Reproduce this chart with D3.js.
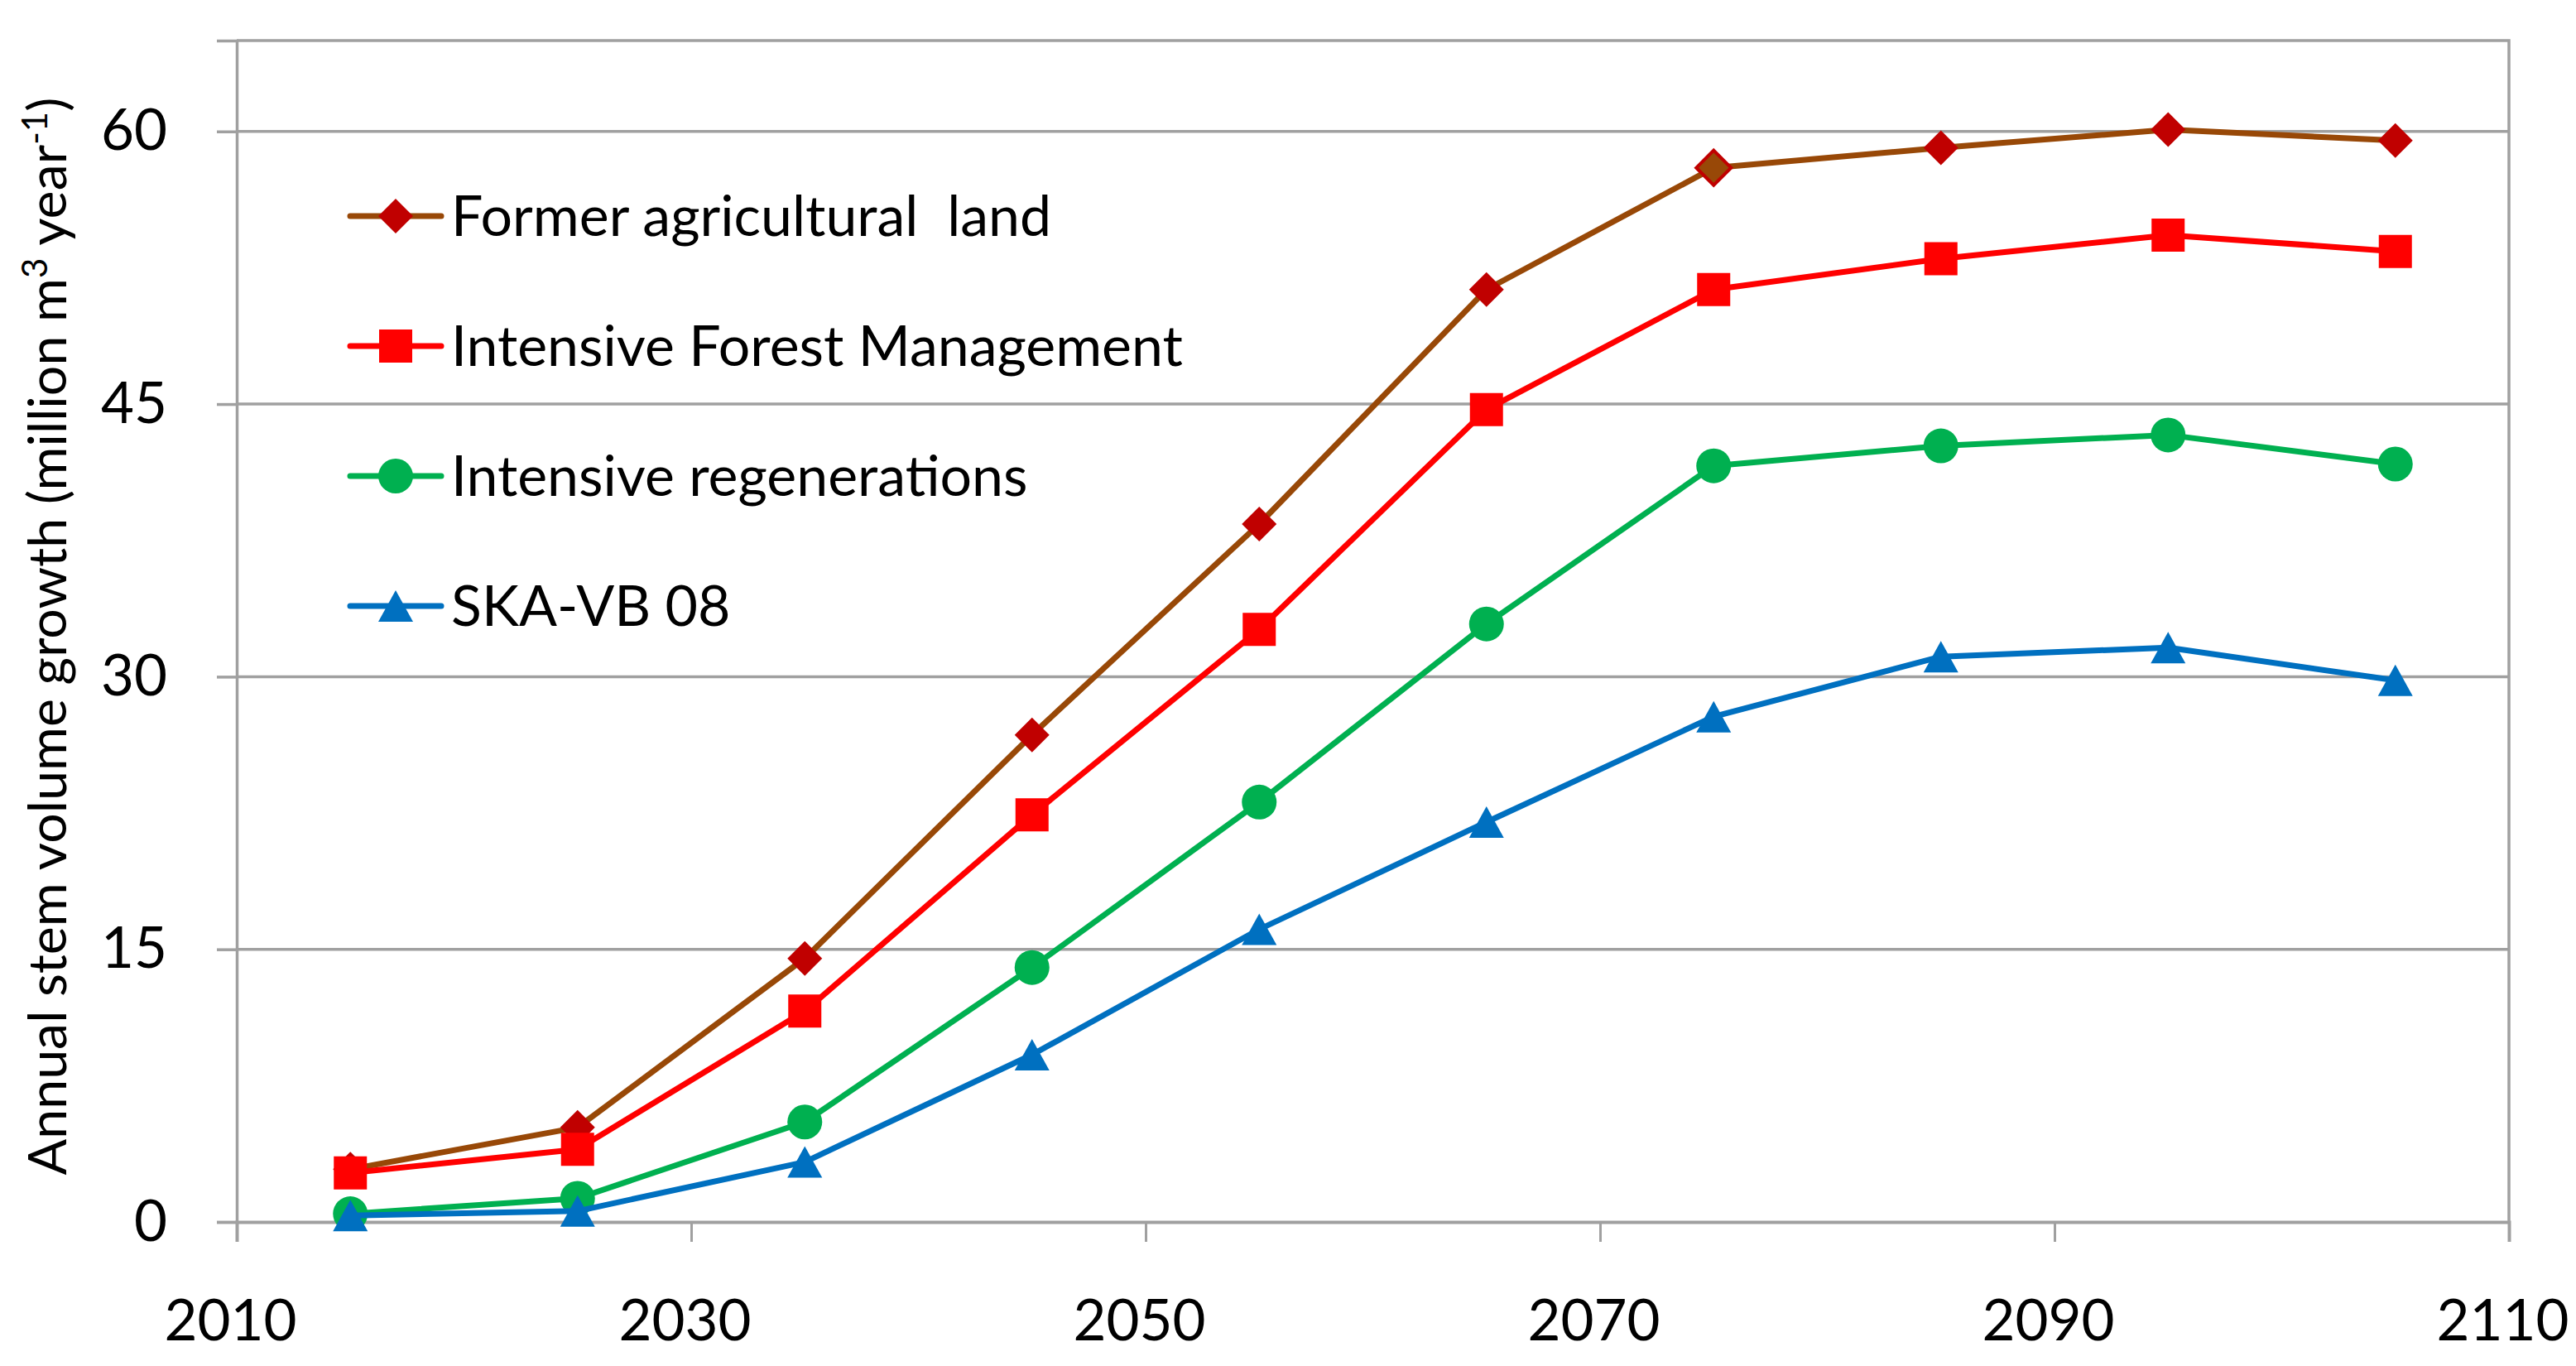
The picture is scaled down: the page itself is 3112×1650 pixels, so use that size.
<!DOCTYPE html>
<html>
<head>
<meta charset="utf-8">
<script src="https://cdn.jsdelivr.net/npm/d3@7"></script>
<style>
  body { margin: 0; background: #fff; }
  text { font-family: Lato, "Open Sans", sans-serif; fill: #000; }
  .tick text { font-variant-numeric: tabular-nums; }
</style>
</head>
<body>
<div id="chart"></div>
<script>
// data
const years = [2015, 2025, 2035, 2045, 2055, 2065, 2075, 2085, 2095, 2105];
const formerAgri = [2.9, 5.2, 14.5, 26.8, 38.4, 51.3, 58.0, 59.1, 60.1, 59.5];
const intensiveFM = [2.7, 4.0, 11.6, 22.4, 32.6, 44.7, 51.3, 53.0, 54.3, 53.4];
const intensiveReg = [0.45, 1.3, 5.5, 14.0, 23.1, 32.9, 41.6, 42.7, 43.3, 41.7];
const skaVB = [0.35, 0.6, 3.3, 9.2, 16.1, 22.0, 27.8, 31.1, 31.6, 29.8];

const seriesNames = ["Former agricultural  land", "Intensive Forest Management", "Intensive regenerations", "SKA-VB 08"];
const xTicks = [2010, 2030, 2050, 2070, 2090, 2110];
const yTicks = [0, 15, 30, 45, 60];

const width = 3112, height = 1650;
const margin = { left: 286, right: 81, top: 49, bottom: 174 };

const series = [
  { name: seriesNames[0], values: formerAgri, line: "#984807", fill: "#c00000", shape: "diamond" },
  { name: seriesNames[1], values: intensiveFM, line: "#ff0000", fill: "#ff0000", shape: "square" },
  { name: seriesNames[2], values: intensiveReg, line: "#00b050", fill: "#00b050", shape: "circle" },
  { name: seriesNames[3], values: skaVB, line: "#0070c0", fill: "#0070c0", shape: "triangle" }
];

const x = d3.scaleLinear().domain([2010, 2110]).range([margin.left, width - margin.right]);
const y = d3.scaleLinear().domain([0, 65]).range([height - margin.bottom, margin.top]);

const svg = d3.select("#chart").append("svg")
  .attr("width", width)
  .attr("height", height);

svg.append("rect").attr("width", width).attr("height", height).attr("fill", "#fff");

const grey = "#a0a0a0";

// horizontal gridlines
svg.append("g")
  .selectAll("line")
  .data(yTicks.filter(d => d > 0))
  .join("line")
  .attr("x1", x(2010)).attr("x2", x(2110))
  .attr("y1", d => y(d)).attr("y2", d => y(d))
  .attr("stroke", grey).attr("stroke-width", 3.5);

// plot border top and right
svg.append("path")
  .attr("d", `M${x(2010)},${y(65)}H${x(2110)}V${y(0)}`)
  .attr("fill", "none").attr("stroke", grey).attr("stroke-width", 3.5);

// axes
const xAxis = d3.axisBottom(x).tickValues(xTicks).tickFormat(d3.format("d")).tickSize(24).tickPadding(70);
const gx = svg.append("g").attr("transform", `translate(0,${y(0)})`).call(xAxis);
gx.select(".domain").attr("stroke", grey).attr("stroke-width", 4);
gx.selectAll(".tick line").attr("stroke", grey).attr("stroke-width", 3);
gx.selectAll(".tick text").attr("font-size", 69).attr("dx", -8).attr("font-family", "Lato");

const yAxis = d3.axisLeft(y).tickValues(yTicks).tickSize(24).tickPadding(60);
const gy = svg.append("g").attr("transform", `translate(${x(2010)},0)`).call(yAxis);
gy.select(".domain").attr("stroke", grey).attr("stroke-width", 3.5);
gy.selectAll(".tick line").attr("stroke", grey).attr("stroke-width", 3.5);
gy.selectAll(".tick text").attr("font-size", 69).attr("font-family", "Lato");

// y axis title
const yTitle = svg.append("text")
  .attr("transform", `translate(80,${(y(0) + y(65)) / 2 + 6}) rotate(-90)`)
  .attr("text-anchor", "middle")
  .attr("font-size", 64.5);
yTitle.append("tspan").text("Annual stem volume growth (million m");
yTitle.append("tspan").text("3").attr("font-size", 42).attr("dy", -23);
yTitle.append("tspan").text(" year").attr("dy", 23);
yTitle.append("tspan").text("-1").attr("font-size", 42).attr("dy", -23);
yTitle.append("tspan").text(")").attr("dy", 23);

// marker shapes
function markerPath(shape) {
  if (shape === "diamond") return "M0,-21L21,0L0,21L-21,0Z";
  if (shape === "square") return "M-20,-20H20V20H-20Z";
  if (shape === "triangle") return "M0,-19L21,19H-21Z";
  return d3.arc()({ innerRadius: 0, outerRadius: 21, startAngle: 0, endAngle: 2 * Math.PI });
}

const line = d3.line()
  .x(d => x(d.year))
  .y(d => y(d.value));

series.forEach(s => {
  const pts = years.map((yr, i) => ({ year: yr, value: s.values[i] }));
  const g = svg.append("g");
  g.append("path")
    .datum(pts)
    .attr("d", line)
    .attr("fill", "none")
    .attr("stroke", s.line)
    .attr("stroke-width", 7)
    .attr("stroke-linejoin", "round")
    .attr("stroke-linecap", "round");
  g.selectAll(".mk")
    .data(pts)
    .join("path")
    .attr("class", "mk")
    .attr("d", markerPath(s.shape))
    .attr("transform", d => `translate(${x(d.year)},${y(d.value)})`)
    // the 2075 diamond is drawn with brown fill in the original
    .attr("fill", d => (s.shape === "diamond" && d.year === 2075) ? s.line : s.fill)
    .attr("stroke", d => (s.shape === "diamond" && d.year === 2075) ? s.fill : "none")
    .attr("stroke-width", 4);
});

// legend
const legend = svg.append("g");
series.forEach((s, i) => {
  const ly = 261 + i * 157;
  legend.append("line")
    .attr("x1", 423).attr("x2", 533)
    .attr("y1", ly).attr("y2", ly)
    .attr("stroke", s.line).attr("stroke-width", 7).attr("stroke-linecap", "round");
  legend.append("path")
    .attr("d", markerPath(s.shape))
    .attr("transform", `translate(478,${ly})`)
    .attr("fill", s.fill);
  legend.append("text")
    .attr("x", 545).attr("y", ly)
    .attr("dy", "0.36em")
    .attr("font-size", 68)
    .style("white-space", "pre")
    .text(s.name);
});
</script>
</body>
</html>
